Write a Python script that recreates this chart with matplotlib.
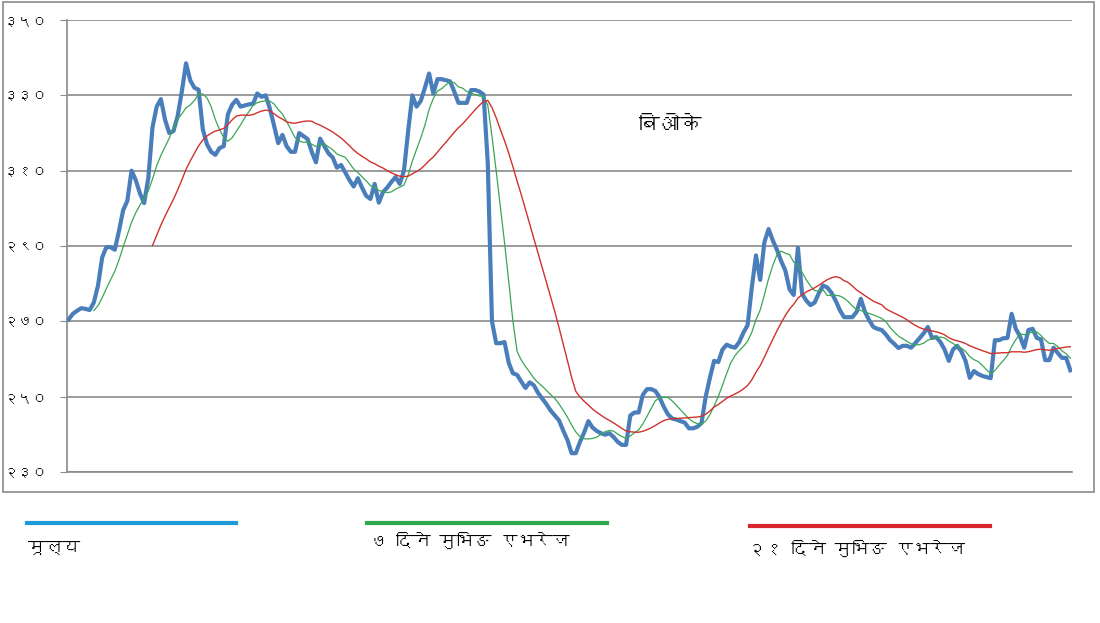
import matplotlib
matplotlib.use("Agg")
import matplotlib.pyplot as plt
from matplotlib import font_manager
from matplotlib.ft2font import FT2Font
from matplotlib.patches import Rectangle
from matplotlib.lines import Line2D
import numpy as np
import pandas as pd

# closing price (one value per trading day)
price = [
    270.5, 272.0, 272.8, 273.5, 273.3, 273.0, 275.0, 279.5, 287.0, 289.7,
    289.7, 289.0, 294.0, 299.5, 302.0, 310.0, 307.5, 304.0, 301.4, 308.0,
    321.5, 327.0, 329.0, 323.5, 320.0, 320.5, 324.5, 331.0, 338.5, 334.0,
    332.0, 331.5, 321.0, 317.0, 315.0, 314.2, 316.0, 316.5, 325.0, 327.5,
    328.8, 327.0, 327.3, 327.6, 327.8, 330.5, 329.6, 330.0, 326.5, 322.0,
    317.3, 319.5, 316.5, 315.0, 315.0, 320.0, 319.2, 318.4, 315.0, 312.2,
    318.5, 316.5, 314.6, 313.5, 310.8, 311.5, 309.5, 307.5, 305.8, 308.0,
    305.5, 303.3, 302.5, 306.5, 301.5, 304.3, 305.5, 307.0, 308.3, 306.5,
    310.0, 320.5, 330.0, 327.0, 328.5, 332.0, 335.8, 330.5, 334.3, 334.3,
    334.0, 333.7, 331.0, 328.0, 328.0, 328.0, 331.4, 331.4, 331.0, 330.2,
    312.0, 270.0, 264.2, 264.2, 264.5, 259.0, 256.2, 255.8, 254.0, 252.3,
    253.8, 253.0, 251.0, 249.5, 248.0, 246.3, 245.0, 243.7, 241.0, 238.5,
    235.0, 235.0, 238.0, 240.5, 243.5, 241.8, 240.9, 240.3, 239.9, 240.3,
    239.3, 238.0, 237.2, 237.2, 245.0, 245.8, 245.8, 250.5, 252.0, 252.0,
    251.5, 249.8, 247.3, 245.3, 244.2, 243.9, 243.5, 243.1, 241.6, 241.6,
    242.0, 243.0, 250.0, 255.0, 259.5, 259.2, 262.5, 263.8, 263.3, 263.0,
    264.5, 267.0, 269.0, 279.0, 287.5, 281.0, 291.0, 294.5, 291.5, 289.0,
    286.0, 283.5, 278.5, 277.0, 289.5, 277.3, 275.5, 274.3, 275.0, 277.5,
    279.5, 279.0, 277.6, 275.5, 273.0, 271.1, 271.1, 271.1, 272.5, 276.0,
    272.5, 270.3, 268.5, 268.0, 267.7, 266.5, 265.0, 264.0, 262.9, 263.5,
    263.5, 263.0, 264.2, 265.5, 266.8, 268.5, 265.6, 265.8, 264.5, 262.5,
    259.5, 262.5, 263.5, 262.0, 259.5, 255.0, 256.8, 256.0, 255.5, 255.2,
    254.9, 265.0, 265.0, 265.5, 265.6, 272.0, 268.0, 266.0, 263.0, 267.7,
    268.0, 265.6, 265.2, 259.7, 259.7, 263.0, 261.6, 260.3, 260.3, 257.0,
]

yticks = [230, 250, 270, 290, 310, 330, 350]
title = "बिओके"
legend_labels = ["मूल्य", "७ दिने मुभिङ एभरेज", "२१ दिने मुभिङ एभरेज"]

# find a font that can draw Devanagari
deva_font = None
for f in font_manager.fontManager.ttflist:
    try:
        if 0x0915 in FT2Font(f.fname).get_charmap():
            deva_font = f.name
            break
    except Exception:
        pass
families = [deva_font, "DejaVu Sans"] if deva_font else ["DejaVu Sans"]
plt.rcParams["font.family"] = families

s = pd.Series(price)
ma7 = s.rolling(7).mean()
ma21 = s.rolling(21).mean()
x = np.arange(len(price))

fig = plt.figure(figsize=(11, 6.23), dpi=100)
ax = fig.add_axes([67 / 1100, 1 - 472 / 623, 1005 / 1100, 452 / 623])

ax.plot(x, price, color="#4a7ebb", lw=3.0, zorder=3)
ax.plot(x, ma7, color="#3aa655", lw=0.9, zorder=4)
ax.plot(x, ma21, color="#d0312d", lw=1.0, zorder=4)

ax.set_xlim(-0.4, len(price) - 0.6)
ax.set_ylim(230, 350)
deva_digits = str.maketrans("0123456789", "०१२३४५६७८९")
ax.set_yticks(yticks)
ax.set_yticklabels([str(v).translate(deva_digits) for v in yticks],
                   fontsize=10.5, fontweight="bold", color="black")
ax.set_xticks([])
ax.yaxis.grid(True, color="#8a8a8a", lw=1.2)
ax.tick_params(axis="y", length=5, color="#8a8a8a", pad=9)
for side in ["top", "right"]:
    ax.spines[side].set_visible(False)
for side in ["left", "bottom"]:
    ax.spines[side].set_color("#8a8a8a")
    ax.spines[side].set_linewidth(1.2)

ax.text(143.5, 322, title, fontsize=15, fontweight="bold",
        ha="center", va="center", color="black")

# chart border
fig.patches.append(Rectangle((3 / 1100, 1 - 492 / 623), 1091 / 1100, 490 / 623,
                             transform=fig.transFigure, fill=False,
                             edgecolor="#8a8a8a", lw=1.2))

# legend below the chart
leg_colors = ["#1e9bd7", "#2ea84a", "#d9262e"]
leg_lines = [(27, 236, 523), (367, 607, 523), (750, 990, 526)]
leg_text = [(28, 548), (370, 540), (748, 548)]
for c, (x0, x1, yy), lab, (tx, ty) in zip(leg_colors, leg_lines, legend_labels, leg_text):
    fig.add_artist(Line2D([x0 / 1100, x1 / 1100], [1 - yy / 623, 1 - yy / 623],
                          transform=fig.transFigure, color=c, lw=3))
    fig.text(tx / 1100, 1 - ty / 623, lab, fontsize=12.5, fontweight="bold",
             ha="left", va="center")

fig.savefig("out.png", dpi=100)
